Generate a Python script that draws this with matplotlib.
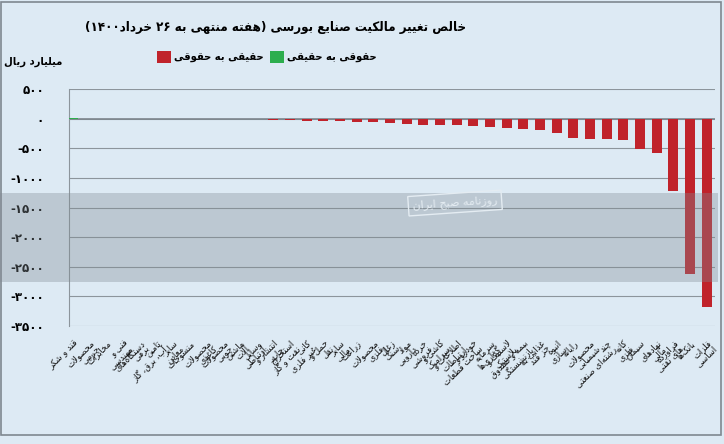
import numpy as np
import matplotlib.pyplot as plt
from matplotlib.patches import Rectangle
from matplotlib.font_manager import FontProperties

# --- data ---
categories = [
    'قند و شکر', 'محصولات\nچرمی', 'مخابرات', 'فنی و\nمهندسی', 'دستگاه‌های\nبرقی',
    'تامین\nآب، برق، گاز', 'سایر\nمعادن', 'منسوجات', 'محصولات\nکاغذی', 'محصولات\nچوبی',
    'ماشین\nآلات', 'وسایل\nارتباطی', 'انتشار و\nچاپ', 'استخراج\nنفت و گاز', 'کانی\nغیر فلزی',
    'حمل و\nنقل', 'سایر\nمالی', 'زراعت', 'محصولات\nفلزی', 'زغال\nسنگ',
    'مواد\nدارویی', 'خرده\nفروشی', 'کاشی و\nسرامیک', 'اطلاعات و\nارتباطات', 'خودرو و\nساخت قطعات',
    'سرمایه\nگذاری‌ها', 'لاستیک و\nپلاستیک', 'بیمه و صندوق\nبازنشستگی', 'غذایی به\nجز قند', 'انبوه\nسازی',
    'رایانه', 'محصولات\nشیمیایی', 'چند\nرشته‌ای صنعتی', 'کانه\nفلزی', 'سیمان',
    'نهادهای\nمالی', 'فراورده\nهای نفتی', 'بانک‌ها', 'فلزات\nاساسی',
]
# حقوقی به حقیقی (green)
legal_to_real = [15] + [0] * 38
# حقیقی به حقوقی (red)
real_to_legal = [0, -1, -1, -2, -2, -3, -3, -4, -4, -5,
                 -6, -8, -25, -30, -34, -40, -45, -56, -65, -68,
                 -85, -100, -102, -113, -124, -136, -153, -170, -192, -249,
                 -333, -348, -352, -367, -508, -576, -1226, -2627, -3175]
yticks = [500, 0, -500, -1000, -1500, -2000, -2500, -3000, -3500]

title = 'خالص تغییر مالکیت صنایع بورسی (هفته منتهی به ۲۶ خرداد۱۴۰۰)'
ylabel = 'میلیارد ریال'
leg_green = 'حقوقی به حقیقی'
leg_red = 'حقیقی به حقوقی'

# --- simple persian shaping (matplotlib has no bidi/shaping) ---
FORMS = {
    'ا': ('\uFE8D', '\uFE8E', None, None), 'آ': ('\uFE81', '\uFE82', None, None),
    'ب': ('\uFE8F', '\uFE90', '\uFE91', '\uFE92'), 'پ': ('\uFB56', '\uFB57', '\uFB58', '\uFB59'),
    'ت': ('\uFE95', '\uFE96', '\uFE97', '\uFE98'), 'ث': ('\uFE99', '\uFE9A', '\uFE9B', '\uFE9C'),
    'ج': ('\uFE9D', '\uFE9E', '\uFE9F', '\uFEA0'), 'چ': ('\uFB7A', '\uFB7B', '\uFB7C', '\uFB7D'),
    'ح': ('\uFEA1', '\uFEA2', '\uFEA3', '\uFEA4'), 'خ': ('\uFEA5', '\uFEA6', '\uFEA7', '\uFEA8'),
    'د': ('\uFEA9', '\uFEAA', None, None), 'ذ': ('\uFEAB', '\uFEAC', None, None),
    'ر': ('\uFEAD', '\uFEAE', None, None), 'ز': ('\uFEAF', '\uFEB0', None, None),
    'ژ': ('\uFB8A', '\uFB8B', None, None),
    'س': ('\uFEB1', '\uFEB2', '\uFEB3', '\uFEB4'), 'ش': ('\uFEB5', '\uFEB6', '\uFEB7', '\uFEB8'),
    'ص': ('\uFEB9', '\uFEBA', '\uFEBB', '\uFEBC'), 'ض': ('\uFEBD', '\uFEBE', '\uFEBF', '\uFEC0'),
    'ط': ('\uFEC1', '\uFEC2', '\uFEC3', '\uFEC4'), 'ظ': ('\uFEC5', '\uFEC6', '\uFEC7', '\uFEC8'),
    'ع': ('\uFEC9', '\uFECA', '\uFECB', '\uFECC'), 'غ': ('\uFECD', '\uFECE', '\uFECF', '\uFED0'),
    'ف': ('\uFED1', '\uFED2', '\uFED3', '\uFED4'), 'ق': ('\uFED5', '\uFED6', '\uFED7', '\uFED8'),
    'ک': ('\uFB8E', '\uFB8F', '\uFB90', '\uFB91'), 'گ': ('\uFB92', '\uFB93', '\uFB94', '\uFB95'),
    'ل': ('\uFEDD', '\uFEDE', '\uFEDF', '\uFEE0'), 'م': ('\uFEE1', '\uFEE2', '\uFEE3', '\uFEE4'),
    'ن': ('\uFEE5', '\uFEE6', '\uFEE7', '\uFEE8'), 'ه': ('\uFEE9', '\uFEEA', '\uFEEB', '\uFEEC'),
    'و': ('\uFEED', '\uFEEE', None, None), 'ی': ('\uFBFC', '\uFBFD', '\uFBFE', '\uFBFF'),
    'ئ': ('\uFE89', '\uFE8A', '\uFE8B', '\uFE8C'),
}
LAM_ALEF = {'ا': ('\uFEFB', '\uFEFC'), 'آ': ('\uFEF5', '\uFEF6')}
DIGITS = set('۰۱۲۳۴۵۶۷۸۹0123456789')
MIRROR = {'(': ')', ')': '('}


def shape_line(s):
    out = []
    n = len(s)
    i = 0
    while i < n:
        c = s[i]
        if c not in FORMS:
            out.append(c)
            i += 1
            continue
        prev = s[i - 1] if i > 0 else None
        conn_prev = prev in FORMS and FORMS[prev][2] is not None
        if c == 'ل' and i + 1 < n and s[i + 1] in LAM_ALEF:
            lig = LAM_ALEF[s[i + 1]]
            out.append(lig[1] if conn_prev else lig[0])
            i += 2
            continue
        nxt = s[i + 1] if i + 1 < n else None
        conn_next = FORMS[c][2] is not None and nxt in FORMS
        f = FORMS[c]
        if conn_prev and conn_next:
            out.append(f[3])
        elif conn_prev:
            out.append(f[1])
        elif conn_next:
            out.append(f[2])
        else:
            out.append(f[0])
        i += 1
    shaped = ''.join(out).replace('\u200c', '')
    # visual order: reverse, keeping digit runs left-to-right
    runs = []
    for ch in shaped:
        isd = ch in DIGITS
        if runs and runs[-1][0] == isd:
            runs[-1][1].append(ch)
        else:
            runs.append([isd, [ch]])
    vis = []
    for isd, chs in reversed(runs):
        if isd:
            vis.append(''.join(chs))
        else:
            vis.append(''.join(MIRROR.get(x, x) for x in reversed(chs)))
    return ''.join(vis)


def fa(s):
    return '\n'.join(shape_line(line) for line in s.split('\n'))


def fa_num(v):
    d = str(abs(int(v))).translate(str.maketrans('0123456789', '۰۱۲۳۴۵۶۷۸۹'))
    return ('-' + d) if v < 0 else d


plt.rcParams['font.family'] = ['DejaVu Sans']

bg = '#DDEAF4'
fig = plt.figure(figsize=(7.24, 4.44), dpi=100, facecolor=bg)
ax = fig.add_axes([69 / 724, 1 - 326 / 444, (715 - 69) / 724, (326 - 89) / 444])
ax.set_facecolor('none')

x = np.arange(len(categories))
ax.bar(x, real_to_legal, width=0.6, color='#C0232B', zorder=3, label=fa(leg_red))
ax.bar(x, legal_to_real, width=0.6, color='#2DAE4E', zorder=3, label=fa(leg_green))

ax.set_ylim(-3500, 500)
ax.set_xlim(-0.26, 38.5)
ax.set_yticks(yticks)
ax.set_yticklabels([fa_num(v) for v in yticks], fontsize=8.5, fontweight='bold')
ax.yaxis.grid(True, color='#8C959C', linewidth=0.8, zorder=0)
ax.axhline(0, color='#7D868D', linewidth=1.2, zorder=2)
ax.tick_params(axis='y', length=0, pad=18)
ax.tick_params(axis='x', length=0, pad=9)
ax.set_xticks(x)
ax.set_xticklabels([fa(c) for c in categories], rotation=45, ha='right', va='top',
                   rotation_mode='anchor', multialignment='right', fontsize=6.8,
                   fontstretch='condensed', color='#111111', linespacing=0.85)
for side in ['top', 'right', 'bottom']:
    ax.spines[side].set_visible(False)
ax.spines['left'].set_color('#8C959C')

fig.text(276 / 724, 1 - 27 / 444, fa(title), ha='center', va='center',
         fontsize=9.5, fontweight='bold', fontstretch='condensed')
fig.text(33 / 724, 1 - 62 / 444, fa(ylabel), ha='center', va='center',
         fontsize=8, fontweight='bold', fontstretch='condensed')

handles, labels = ax.get_legend_handles_labels()
fig.legend(handles, labels, loc='center', bbox_to_anchor=(267 / 724, 1 - 57 / 444),
           ncol=2, frameon=False, handlelength=1.2, handleheight=1.2,
           handletextpad=0.3, columnspacing=0.6,
           prop=FontProperties(family='DejaVu Sans', weight='bold',
                               stretch='condensed', size=8))

# watermark band and badge
fig.patches.append(Rectangle((0, 1 - 282 / 444), 718 / 724, 89 / 444,
                             transform=fig.transFigure, facecolor='#808B93',
                             alpha=0.35, edgecolor='none', zorder=5))
fig.text(455 / 724, 1 - 203 / 444, fa('روزنامه صبح ایران'), ha='center', va='center',
         fontsize=8, color='#E4ECF2', rotation=4, zorder=6,
         bbox=dict(facecolor='none', edgecolor='#E4ECF2', linewidth=1, pad=3))

# outer frame
fig.patches.append(Rectangle((0.002, 0.02), 0.994, 0.975, transform=fig.transFigure,
                             facecolor='none', edgecolor='#7F8890', linewidth=1.2, zorder=7))

fig.savefig('out.png', dpi=100, facecolor=bg)
